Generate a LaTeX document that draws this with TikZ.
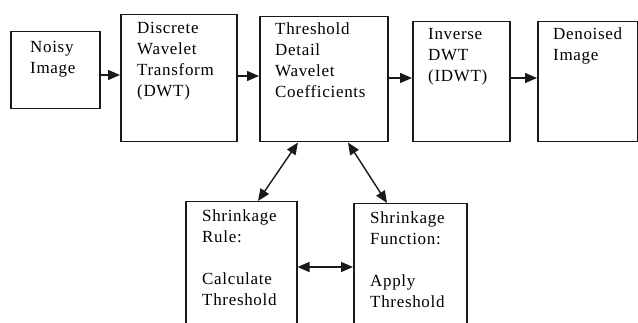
\documentclass[tikz,border=0pt]{standalone}
\usepackage{fontspec}
\setmainfont{Liberation Serif}[LetterSpace=4]
\usetikzlibrary{arrows.meta}
\tikzset{
  box/.style={draw=black!90, line width=1.5pt, fill=none},
  lbl/.style={anchor=north west, inner sep=0pt, align=left,
    font=\fontsize{17}{21}\selectfont, text=black,
    execute at begin node={\rule{0pt}{15pt}}},
  arr/.style={line width=1.4pt, draw=black!90, -{Triangle[length=12pt,width=10pt]}},
  darr/.style={line width=1.4pt, draw=black!90, {Triangle[length=12pt,width=10pt]}-{Triangle[length=12pt,width=10pt]}}
}
\begin{document}
\begin{tikzpicture}[x=1pt,y=-1pt]
\useasboundingbox (0,0) rectangle (638,323);
\clip (0,0) rectangle (638,323);
% boxes
\node[box, anchor=north west, minimum width=89pt, minimum height=77pt, inner sep=0pt] (b1) at (10,31) {};
\node[box, anchor=north west, minimum width=116pt, minimum height=127pt, inner sep=0pt] (b2) at (120,14) {};
\node[box, anchor=north west, minimum width=128pt, minimum height=125pt, inner sep=0pt] (b3) at (259,16) {};
\node[box, anchor=north west, minimum width=97pt, minimum height=120pt, inner sep=0pt] (b4) at (412,21) {};
\node[box, anchor=north west, minimum width=100pt, minimum height=120pt, inner sep=0pt] (b5) at (537,21) {};
\node[box, anchor=north west, minimum width=111pt, minimum height=140pt, inner sep=0pt] (b6) at (185,201) {};
\node[box, anchor=north west, minimum width=113pt, minimum height=140pt, inner sep=0pt] (b7) at (353,203) {};
% labels
\node[lbl] (t1) at (30,41) {Noisy\\Image};
\node[lbl] (t2) at (137,22) {Discrete\\Wavelet\\Transform\\(DWT)};
\node[lbl] (t3) at (275,23) {Threshold\\Detail\\Wavelet\\Coefficients};
\node[lbl] (t4) at (428,28) {Inverse\\DWT\\(IDWT)};
\node[lbl] (t5) at (553,28) {Denoised\\Image};
\node[lbl] (t6) at (202,210) {Shrinkage\\Rule:\\[21pt]Calculate\\Threshold};
\node[lbl] (t7) at (370,212) {Shrinkage\\Function:\\[21pt]Apply\\Threshold};
% connectors
\draw[arr] (b1.east |- 0,75) -- (b2.west |- 0,75);
\draw[arr] (b2.east |- 0,76) -- (b3.west |- 0,76);
\draw[arr] (b3.east |- 0,78) -- (b4.west |- 0,78);
\draw[arr] (b4.east |- 0,78) -- (b5.west |- 0,78);
\draw[darr] (b3.south -| 298,0) -- (b6.north -| 258,0);
\draw[darr] (b3.south -| 348,0) -- (b7.north -| 387,0);
\draw[darr] (b6.east |- 0,267) -- (b7.west |- 0,267);
\end{tikzpicture}
\end{document}
